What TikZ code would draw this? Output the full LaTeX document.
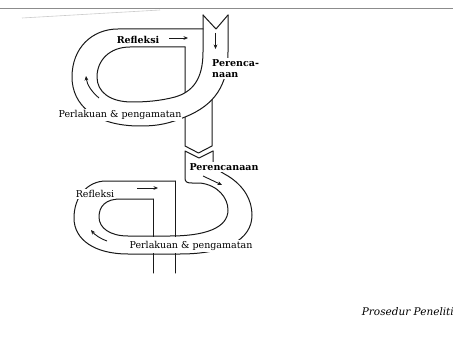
\documentclass[tikz,border=0pt]{standalone}
\usepackage{fontspec}
\setmainfont{DejaVu Serif}
\usetikzlibrary{arrows.meta}
\begin{document}
\begin{tikzpicture}[x=1pt,y=-1pt,
  band/.style={line width=1pt, draw=black!90, line join=round, line cap=round},
  lbl/.style={font=\fontsize{9.5}{11.5}\selectfont, inner sep=1pt, text=black},
  lblb/.style={lbl, font=\fontsize{9.5}{11.5}\selectfont\bfseries},
  lblw/.style={lbl, fill=white},
  lblbw/.style={lblb, fill=white},
  flow/.style={line width=0.9pt, draw=black!90, -{Stealth[length=4.5pt,width=3.8pt]}},
  scan/.style={line width=0.6pt, draw=black!45},
]
\useasboundingbox (0,0) rectangle (453,337);
\fill[white] (0,0) rectangle (453,337);
% scan edge lines
\draw[scan] (0,8) -- (453,8);
\draw[scan, draw=black!20] (22,18) -- (160,10);

% ===== upper cycle =====
% back strip going down (behind the front band)
\draw[band] (185,47) -- (185,146) -- (198.5,153) -- (212,146) -- (212,40);
% front band fill (occludes back strip)
\fill[white] (203,15) -- (216,29) -- (228,15) -- (228,52)
  .. controls (228,85) and (215,105) .. (185,117)
  .. controls (170,123) and (160,126) .. (140,126)
  -- (132,102)
  .. controls (145,102) and (160,101) .. (175,97)
  .. controls (192,92) and (203,80) .. (203,52) -- cycle;
% inner edge
\draw[band] (203,15) -- (203,52)
  .. controls (203,80) and (192,92) .. (175,97)
  .. controls (160,101) and (145,102) .. (132,102)
  .. controls (110,102) and (97,92) .. (97,77)
  .. controls (97,60) and (110,47) .. (130,47) -- (185,47);
% outer edge
\draw[band] (228,15) -- (228,52)
  .. controls (228,85) and (215,105) .. (185,117)
  .. controls (170,123) and (160,126) .. (140,126)
  .. controls (95,126) and (72,105) .. (72,77)
  .. controls (72,48) and (92,29) .. (118,29) -- (203,29);
% notch
\draw[band] (203,15) -- (216,29) -- (228,15);

% labels upper
\node[lblb] (refl1) at (138,40) {Refleksi};
\node[lblbw, align=left, anchor=north west] (plan1) at (211,58) {Perenca-\\naan};
\node[lblw] (act1) at (120,115) {Perlakuan \& pengamatan};

% arrows upper
\coordinate (r1s) at (169,38); \coordinate (r1e) at (188,38);
\draw[flow] (r1s) -- (r1e);
\coordinate (p1s) at (215.5,33); \coordinate (p1e) at (215.5,49);
\draw[flow] (p1s) -- (p1e);
\coordinate (a1s) at (99,98); \coordinate (a1e) at (86,76);
\draw[flow] (a1s) .. controls (92,92) and (87,85) .. (a1e);

% ===== lower cycle =====
% back strip
\draw[band] (153,199) -- (153,273);
\draw[band] (175,181) -- (175,273);
\fill[white] (149,236.6) rectangle (179,253.4);
% inner edge
\draw[band] (213,151) -- (199,158) -- (185,151) -- (185,178)
  .. controls (185,182) and (187,183) .. (192,183) -- (200,183)
  .. controls (218,185) and (228,198) .. (228,210)
  .. controls (228,228) and (205,236) .. (170,236) -- (128,236)
  .. controls (110,236) and (99,228) .. (99,217)
  .. controls (99,206) and (106,199) .. (120,199) -- (153,199);
% outer edge
\draw[band] (213,151) -- (213,162)
  .. controls (213,167) and (219,171) .. (228,176)
  .. controls (244,186) and (252,200) .. (252,215)
  .. controls (252,240) and (225,254) .. (180,254) -- (128,254)
  .. controls (95,254) and (74,240) .. (74,218)
  .. controls (74,196) and (88,181) .. (106,181) -- (175,181);

% labels lower
\node[lblbw] (plan2) at (224,167) {Perencanaan};
\node[lblw] (refl2) at (95,194) {Refleksi};
\node[lblw] (act2) at (191,246) {Perlakuan \& pengamatan};

% arrows lower
\coordinate (r2s) at (137,188); \coordinate (r2e) at (158,188);
\draw[flow] (r2s) -- (r2e);
\coordinate (p2s) at (203,176); \coordinate (p2e) at (222,185);
\draw[flow] (p2s) -- (p2e);
\coordinate (a2s) at (107,241); \coordinate (a2e) at (91,230);
\draw[flow] (a2s) .. controls (101,239) and (95,235) .. (a2e);

% caption
\node[lbl, font=\fontsize{10.5}{13}\selectfont\itshape, anchor=east, inner sep=0pt] (cap) at (454,312) {Prosedur Peneliti};
\end{tikzpicture}
\end{document}
